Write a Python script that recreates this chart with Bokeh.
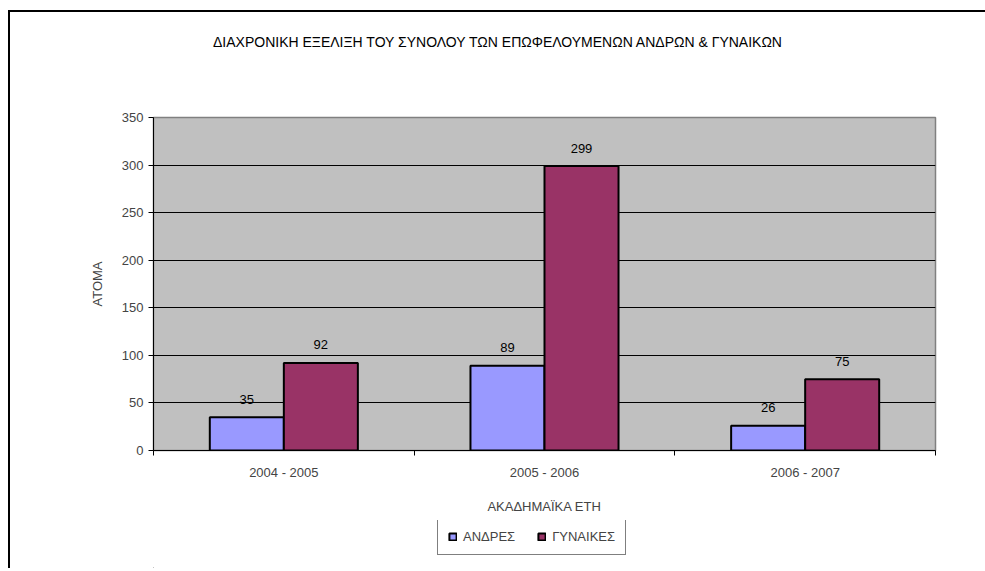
from bokeh.plotting import figure
from bokeh.layouts import column
from bokeh.models import (ColumnDataSource, Range1d, LinearAxis, FixedTicker, LabelSet,
                          Legend, LegendItem, Grid, Div)
from bokeh.transform import dodge
from bokeh.core.properties import value
from bokeh.embed import file_html
from bokeh.resources import INLINE

title_text = "ΔΙΑΧΡΟΝΙΚΗ ΕΞΕΛΙΞΗ ΤΟΥ ΣΥΝΟΛΟΥ ΤΩΝ ΕΠΩΦΕΛΟΥΜΕΝΩΝ ΑΝΔΡΩΝ & ΓΥΝΑΙΚΩΝ"
years = ["2004 - 2005", "2005 - 2006", "2006 - 2007"]
men = [35, 89, 26]
women = [92, 299, 75]
series_names = ["ΑΝΔΡΕΣ", "ΓΥΝΑΙΚΕΣ"]
y_ticks = [0, 50, 100, 150, 200, 250, 300, 350]
x_label = "ΑΚΑΔΗΜΑΪΚΑ ΕΤΗ"
y_label = "ΑΤΟΜΑ"

FONT = "Liberation Sans"
FS = "13px"
BLUE = "#9999FF"
RED = "#993366"

n = len(years)
centers = [i + 0.5 for i in range(n)]          # category slots on a 0..n axis
boundaries = [i for i in range(n + 1)]

src = ColumnDataSource(dict(pos=centers, men=men, women=women,
                            men_t=[str(v) for v in men], women_t=[str(v) for v in women]))

# title strip
title_div = Div(text=("<div style=\"width:956px;text-align:center;padding-left:19px;padding-top:20px;"
                      "font-family:'Liberation Sans';font-size:14px;color:black;"
                      "white-space:nowrap\">" + title_text + "</div>"),
                width=975, height=50, margin=(0, 0, 0, 0))

p = figure(x_range=Range1d(0, n), y_range=Range1d(0, 350),
           width=975, height=458, output_backend="svg", toolbar_location=None,
           x_axis_location=None, y_axis_location=None,
           min_border_left=143, min_border_right=50, min_border_top=55, min_border_bottom=70)
p.background_fill_color = "#C0C0C0"
p.border_fill_color = "white"
p.outline_line_color = "#808080"
p.outline_line_width = 1.5
for g in p.grid:
    g.visible = False

# y axis
yax = LinearAxis(ticker=FixedTicker(ticks=y_ticks), axis_label=y_label)
yax.axis_line_color = "black"
yax.major_tick_line_color = "black"
yax.major_tick_out = 5
yax.major_tick_in = 0
yax.minor_tick_line_color = None
yax.major_label_standoff = 5
yax.axis_label_standoff = 14
yax.major_label_text_font = FONT
yax.major_label_text_font_size = FS
yax.axis_label_text_font = FONT
yax.axis_label_text_font_size = FS
yax.axis_label_text_font_style = "normal"
p.add_layout(yax, "left")
p.add_layout(Grid(dimension=1, ticker=yax.ticker, grid_line_color="black", grid_line_width=1))

# x axis: labels at category centres, ticks at category boundaries
xax = LinearAxis(ticker=FixedTicker(ticks=centers, minor_ticks=boundaries), axis_label=x_label)
xax.major_label_overrides = {c: y for c, y in zip(centers, years)}
xax.axis_line_color = "black"
xax.major_tick_line_color = None
xax.major_tick_out = 0
xax.major_tick_in = 0
xax.minor_tick_line_color = "black"
xax.minor_tick_out = 5
xax.minor_tick_in = 0
xax.major_label_standoff = 9
xax.axis_label_standoff = 16
xax.major_label_text_font = FONT
xax.major_label_text_font_size = FS
xax.axis_label_text_font = FONT
xax.axis_label_text_font_size = FS
xax.axis_label_text_font_style = "normal"
p.add_layout(xax, "below")

p.vbar(x=dodge("pos", -0.142), top="men", width=0.284, source=src,
       fill_color=BLUE, line_color="black", line_width=2)
p.vbar(x=dodge("pos", 0.142), top="women", width=0.284, source=src,
       fill_color=RED, line_color="black", line_width=2)

for col, tcol, off in (("men", "men_t", -0.142), ("women", "women_t", 0.142)):
    p.add_layout(LabelSet(x=dodge("pos", off), y=col, text=tcol, source=src,
                          y_offset=18, text_align="center", text_baseline="middle",
                          text_font=value(FONT), text_font_size=value(FS), text_color="black"))

# legend strip below the chart (swatch renderers sit outside the strip's visible range)
p2 = figure(x_range=Range1d(0, 1), y_range=Range1d(0, 1), width=975, height=48,
            output_backend="svg", toolbar_location=None,
            x_axis_location=None, y_axis_location=None,
            min_border_left=0, min_border_right=0, min_border_top=0, min_border_bottom=0)
p2.outline_line_color = None
p2.background_fill_color = "white"
p2.border_fill_color = "white"
for g in p2.grid:
    g.visible = False
swatch = ColumnDataSource(dict(x=[-5], top=[0]))
d1 = p2.vbar(x="x", top="top", width=0.1, source=swatch, fill_color=BLUE, line_color="black", line_width=2)
d2 = p2.vbar(x="x", top="top", width=0.1, source=swatch, fill_color=RED, line_color="black", line_width=2)

legend = Legend(items=[LegendItem(label=series_names[0], renderers=[d1]),
                       LegendItem(label=series_names[1], renderers=[d2])],
                orientation="horizontal", location=(284, 13))
legend.border_line_color = "black"
legend.border_line_width = 1
legend.label_text_font = FONT
legend.label_text_font_size = FS
legend.glyph_width = 9
legend.glyph_height = 9
legend.label_standoff = 6
legend.spacing = 22
legend.padding = 10
legend.margin = 0
legend.background_fill_color = "white"
p2.add_layout(legend, "center")

lay = column(title_div, p, p2, spacing=0)
lay.styles = {"border-top": "2px solid black", "border-left": "2px solid black",
              "margin-top": "10px", "margin-left": "8px"}

open("out.html", "w").write(file_html(lay, INLINE))
